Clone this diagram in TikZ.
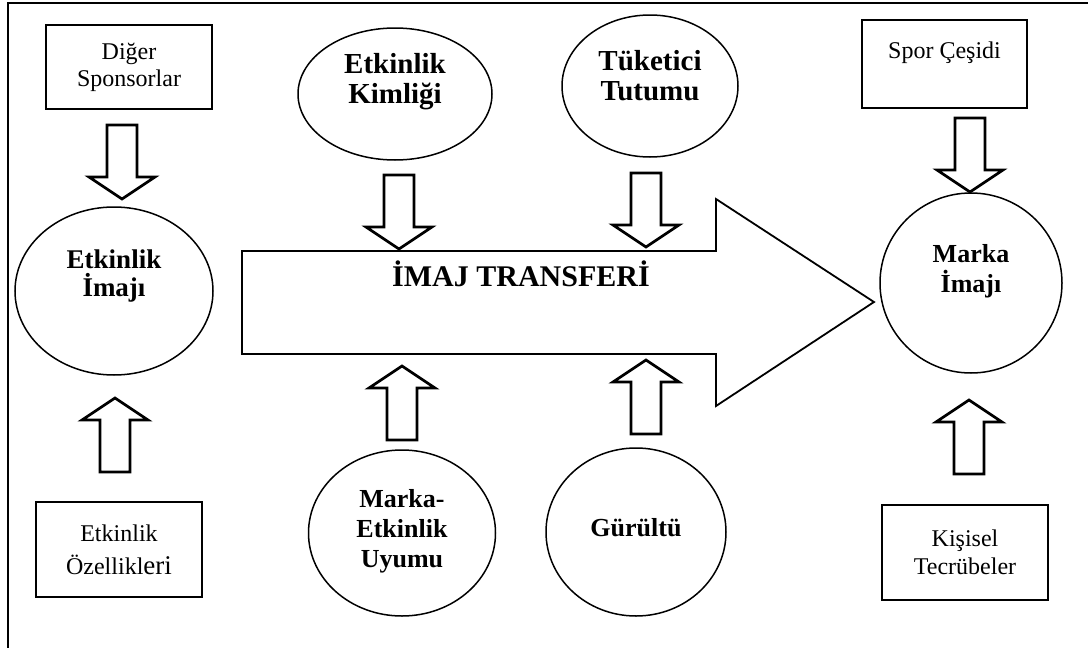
\documentclass[tikz,border=0pt]{standalone}
\usepackage{fontspec}
\setmainfont{Liberation Serif}
\usepackage{tikz}
\usetikzlibrary{shapes.geometric}

\tikzset{
  kutu/.style={draw, line width=1.2pt, minimum width=166pt, minimum height=84pt,
    inner sep=0pt, align=center, font=\fontsize{24}{28}\selectfont},
  elips/.style={draw, ellipse, line width=1.5pt, inner sep=0pt},
  yazi/.style={align=center, font=\fontsize{26}{30}\selectfont\bfseries},
  buyukyazi/.style={yazi, font=\fontsize{29}{30}\selectfont\bfseries},
  okblok/.pic={
    \draw[line width=2.7pt, line join=miter, fill=white]
      (0,0) -- (-33,-22) -- (-15,-22) -- (-15,-74) -- (15,-74) -- (15,-22) -- (33,-22) -- cycle;
  },
}

\begin{document}
\begin{tikzpicture}[x=1pt,y=-1pt]
      \useasboundingbox (0,0) rectangle (1088,648);

      % frame
      \draw[line width=2.5pt] (1088,3) -- (8,3) -- (8,648);

      % big arrow
      \draw[line width=1.8pt, line join=miter] (242,251) -- (716,251) -- (716,199)
        -- (874,302) -- (716,406) -- (716,354) -- (242,354) -- cycle;
      \node[font=\fontsize{30}{34}\selectfont\bfseries] (transfer) at (521,274) {İMAJ TRANSFERİ};

      %write boxes
      \node[kutu, font=\fontsize{24}{27}\selectfont] (sponsor) at (129,67) {Diğer\\Sponsorlar};
      \node[kutu, minimum height=95pt, font=\fontsize{24}{33}\selectfont] (ozellik) at (119,549.5)
        {Etkinlik\\Özellikl{\fontsize{27}{33}\selectfont eri}};
      \node[kutu, minimum width=165pt, minimum height=88pt] (spor) at (944.5,64) {Spor Çeşidi\\~};
      \node[kutu, minimum height=95pt] (kisisel) at (965,552.5) {Kişisel\\Tecrübeler};

      %draw ellipses
      \node[elips, minimum width=198pt, minimum height=168pt] (eimaj) at (114,291) {};
      \node[elips, minimum width=194pt, minimum height=132pt] (kimlik) at (395,94) {};
      \node[elips, minimum width=176pt, minimum height=142pt] (tutum) at (650,86) {};
      \node[elips, minimum width=187pt, minimum height=166pt] (uyum) at (402,533) {};
      \node[elips, minimum width=180pt, minimum height=168pt] (gurultu) at (636,532) {};
      \node[elips, minimum width=182pt, minimum height=180pt] (marka) at (971,283) {};

      %write ellipse texts
      \node[yazi, font=\fontsize{27}{28}\selectfont\bfseries] (eimajtxt) at ([yshift=15pt]eimaj.center) {Etkinlik\\İmajı};
      \node[buyukyazi] (kimliktxt) at ([yshift=12pt]kimlik.center) {Etkinlik\\Kimliği};
      \node[buyukyazi] (tutumtxt) at ([yshift=10pt]tutum.center) {Tüketici\\Tutumu};
      \node[yazi] (uyumtxt) at ([yshift=1.5pt]uyum.center) {Marka-\\Etkinlik\\Uyumu};
      \node[yazi] (gurultutxt) at ([yshift=4pt]gurultu.center) {Gürültü};
      \node[yazi] (markatxt) at ([yshift=12pt]marka.center) {Marka\\İmajı};

      % tips of the block arrows
      \coordinate (ok1) at (122,199);
      \coordinate (ok2) at (115,398);
      \coordinate (ok3) at (399,249);
      \coordinate (ok4) at (646,247);
      \coordinate (ok5) at (402,366);
      \coordinate (ok6) at (646,360);
      \coordinate (ok7) at (970,192);
      \coordinate (ok8) at (969,400);

      % block arrows down
      \pic at (ok1) {okblok};
      \pic at (ok3) {okblok};
      \pic at (ok4) {okblok};
      \pic at (ok7) {okblok};

      % block arrows up
      \pic[rotate=180] at (ok2) {okblok};
      \pic[rotate=180] at (ok5) {okblok};
      \pic[rotate=180] at (ok6) {okblok};
      \pic[rotate=180] at (ok8) {okblok};
\end{tikzpicture}
\end{document}
